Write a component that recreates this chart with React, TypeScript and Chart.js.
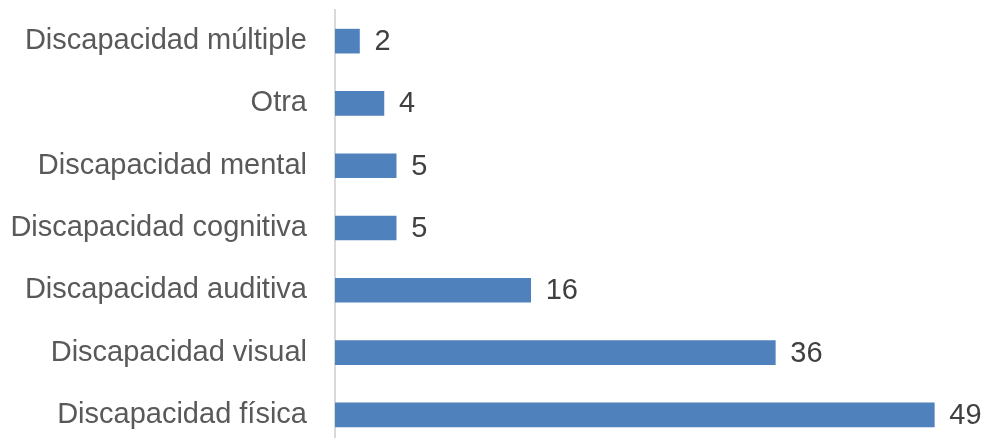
import React, { useEffect, useRef } from "react";
import { Chart, registerables } from "chart.js";

Chart.register(...registerables);

const categories = [
  "Discapacidad múltiple",
  "Otra",
  "Discapacidad mental",
  "Discapacidad cognitiva",
  "Discapacidad auditiva",
  "Discapacidad visual",
  "Discapacidad física",
];
const values = [2, 4, 5, 5, 16, 36, 49];

const FONT = "'Liberation Sans', Arial, sans-serif";

const valueLabels = {
  id: "valueLabels",
  afterDatasetsDraw(chart: any) {
    const ctx = chart.ctx;
    const meta = chart.getDatasetMeta(0);
    ctx.save();
    ctx.font = `29px ${FONT}`;
    ctx.fillStyle = "#404040";
    ctx.textAlign = "left";
    ctx.textBaseline = "middle";
    meta.data.forEach((bar: any, i: number) => {
      ctx.fillText(String(values[i]), bar.x + 15, bar.y + 1);
    });
    ctx.restore();
  },
};

export default function App() {
  const ref = useRef<HTMLCanvasElement>(null);
  useEffect(() => {
    if (!ref.current) return;
    const chart = new Chart(ref.current, {
      type: "bar",
      data: {
        labels: categories,
        datasets: [
          {
            data: values,
            backgroundColor: "#4F81BD",
            borderWidth: 0,
            barThickness: 24,
          },
        ],
      },
      options: {
        indexAxis: "y",
        animation: false,
        responsive: true,
        maintainAspectRatio: false,
        devicePixelRatio: 1,
        layout: { padding: { top: 10, right: 15, bottom: 0, left: 0 } },
        plugins: {
          legend: { display: false },
          tooltip: { enabled: false },
        },
        scales: {
          x: {
            display: false,
            min: 0,
            max: 52,
          },
          y: {
            afterFit: (scale: any) => {
              scale.width = 335;
              scale.paddingTop = 0;
              scale.paddingBottom = 0;
            },
            grid: { display: false, drawTicks: false },
            border: { display: true, color: "#d9d9d9", width: 2 },
            ticks: {
              padding: 28,
              color: "#595959",
              font: { family: FONT, size: 29 },
            },
          },
        },
      },
      plugins: [valueLabels],
    });
    return () => chart.destroy();
  }, []);
  return (
    <div
      style={{
        position: "absolute",
        left: 0,
        top: 0,
        width: 986,
        height: 438,
        overflow: "hidden",
        background: "#ffffff",
      }}
    >
      <div style={{ position: "relative", width: 986, height: 446 }}>
        <canvas ref={ref} />
      </div>
    </div>
  );
}
